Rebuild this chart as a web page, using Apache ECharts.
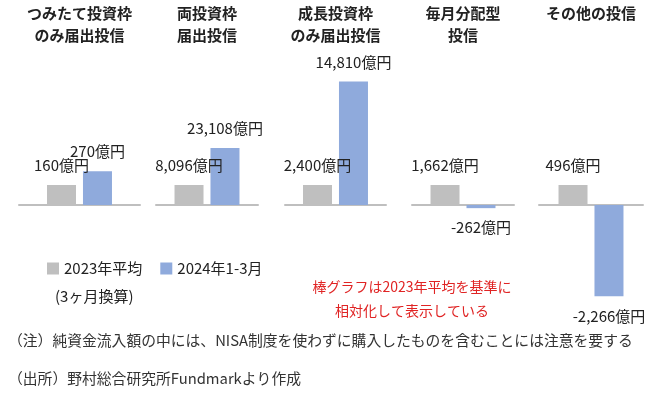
<!DOCTYPE html>
<html><head><meta charset="utf-8">
<script src="https://cdn.jsdelivr.net/npm/echarts@6/dist/echarts.min.js"></script>
<style>html,body{margin:0;padding:0;background:#fff}#c{width:664px;height:394px}</style>
</head><body><div id="c"></div>
<script>
const categories = ['つみたて投資枠\nのみ届出投信', '両投資枠\n届出投信', '成長投資枠\nのみ届出投信', '毎月分配型\n投信', 'その他の投信'];
const seriesNames = ['2023年平均', '2024年1-3月'];
const avg2023 = [160, 8096, 2400, 1662, 496];
const jan2024 = [270, 23108, 14810, -262, -2266];

const FONT = '"Noto Sans CJK JP", "Noto Sans", sans-serif';
const panelLayout = [
  {left: 19, width: 121},
  {left: 156, width: 102},
  {left: 285, width: 101},
  {left: 412, width: 102},
  {left: 539, width: 104}
];
const fmt = v => v.toLocaleString('en-US') + '億円';

const grids = [], xAxes = [], yAxes = [], series = [], titles = [];
categories.forEach((cat, i) => {
  const p = panelLayout[i];
  grids.push({left: p.left, width: p.width, top: 65, height: 240});
  xAxes.push({type: 'category', gridIndex: i, data: [cat],
    axisLine: {show: true, lineStyle: {color: '#BFBFBF', width: 2}},
    axisTick: {show: false}, axisLabel: {show: false}, splitLine: {show: false}});
  yAxes.push({type: 'value', gridIndex: i, min: -5, max: 7, show: false});
  titles.push({text: cat, left: p.left + p.width / 2, top: 2, padding: 0, textAlign: 'center',
    textStyle: {fontFamily: FONT, fontSize: 15, fontWeight: 'bold', color: '#222', lineHeight: 22}});
  const base = avg2023[i];
  const vals = [avg2023[i], jan2024[i]];
  const colors = ['#BFBFBF', '#8FAADC'];
  vals.forEach((v, k) => {
    const rel = v / base;
    series.push({
      type: 'bar', name: seriesNames[k], xAxisIndex: i, yAxisIndex: i,
      barWidth: 29, barGap: '24%',
      itemStyle: {color: colors[k]},
      data: [{value: rel, label: {position: rel >= 0 ? 'top' : 'bottom'}}],
      label: {show: true, distance: 12, fontFamily: FONT, fontSize: 15, color: '#222',
        formatter: () => fmt(v)},
      silent: true, animation: false
    });
  });
});

titles.push({text: '(3ヶ月換算)', left: 55, top: 289, padding: 0,
  textStyle: {fontFamily: FONT, fontSize: 15, fontWeight: 'normal', color: '#222'}});
titles.push({text: '棒グラフは2023年平均を基準に\n相対化して表示している', left: 412, top: 275, padding: 0, textAlign: 'center',
  textStyle: {fontFamily: FONT, fontSize: 14, fontWeight: 'normal', color: '#E02424', lineHeight: 24}});
titles.push({text: '（注）純資金流入額の中には、NISA制度を使わずに購入したものを含むことには注意を要する', left: 8, top: 333, padding: 0,
  textStyle: {fontFamily: FONT, fontSize: 14.8, fontWeight: 'normal', color: '#333'}});
titles.push({text: '（出所）野村総合研究所Fundmarkより作成', left: 8, top: 371, padding: 0,
  textStyle: {fontFamily: FONT, fontSize: 14.8, fontWeight: 'normal', color: '#333'}});

const chart = echarts.init(document.getElementById('c'));
chart.setOption({
  animation: false,
  title: titles,
  legend: {data: seriesNames, left: 42, top: 256, icon: 'rect', itemWidth: 12, itemHeight: 12, itemGap: 18,
    textStyle: {fontFamily: FONT, fontSize: 15, color: '#222'}, selectedMode: false},
  grid: grids, xAxis: xAxes, yAxis: yAxes, series: series
});
</script></body></html>
